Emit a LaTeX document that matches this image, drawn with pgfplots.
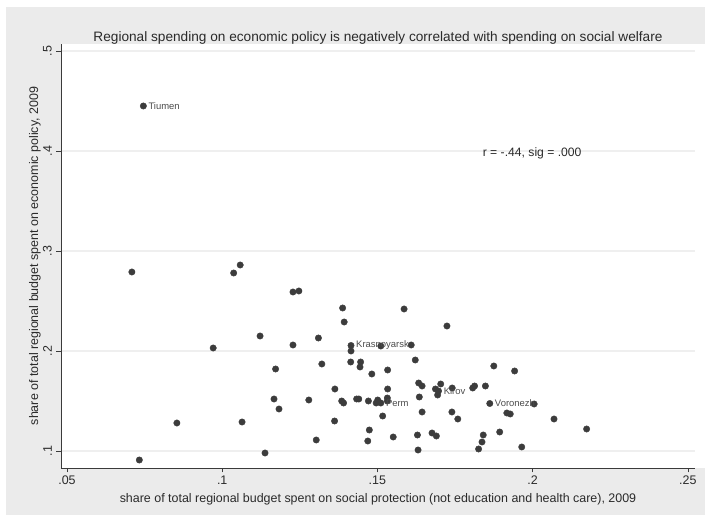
\documentclass[border=0pt]{standalone}
\usepackage{pgfplots}
\pgfplotsset{compat=1.18}
\usepackage{fontspec}
\setmainfont{Liberation Sans}
\definecolor{bg}{HTML}{EBEBEB}
\definecolor{dot}{HTML}{3C3C3C}
\definecolor{gridc}{HTML}{EFEFEF}
\definecolor{axc}{HTML}{3A3A3A}
\definecolor{txt}{HTML}{2A2A2A}
\pgfplotstableread{
x y
0.0709 0.279
0.1058 0.286
0.1037 0.278
0.1228 0.259
0.1247 0.260
0.1122 0.215
0.0971 0.203
0.1228 0.206
0.1172 0.182
0.1167 0.152
0.1183 0.142
0.1279 0.151
0.0854 0.128
0.1064 0.129
0.1138 0.098
0.0733 0.091
0.1388 0.243
0.1393 0.229
0.1586 0.242
0.1724 0.225
0.1310 0.213
0.1415 0.200
0.1511 0.205
0.1609 0.206
0.1414 0.189
0.1446 0.189
0.1444 0.184
0.1482 0.177
0.1533 0.181
0.1622 0.191
0.1321 0.187
0.1363 0.162
0.1533 0.162
0.1633 0.168
0.1644 0.165
0.1704 0.167
0.1687 0.162
0.1694 0.156
0.1741 0.163
0.1807 0.163
0.1813 0.165
0.1848 0.165
0.2005 0.147
0.1917 0.138
0.1928 0.137
0.2069 0.132
0.2174 0.122
0.1875 0.185
0.1942 0.180
0.1385 0.150
0.1391 0.148
0.1433 0.152
0.1440 0.152
0.1471 0.150
0.1501 0.151
0.1496 0.148
0.1532 0.153
0.1532 0.150
0.1635 0.154
0.1362 0.130
0.1517 0.135
0.1644 0.139
0.1740 0.139
0.1759 0.132
0.1474 0.121
0.1469 0.110
0.1303 0.111
0.1551 0.114
0.1629 0.116
0.1631 0.101
0.1676 0.118
0.1690 0.115
0.1841 0.116
0.1837 0.109
0.1826 0.102
0.1894 0.119
0.1965 0.104
}\others
\pgfplotstableread{
x y name
0.0746 0.445 Tiumen
0.1415 0.2055 Krasnoyarsk
0.1697 0.160 Kirov
0.1862 0.1475 Voronezh
0.1511 0.148 Perm
}\named
\begin{document}
\begin{tikzpicture}[x=1bp,y=1bp]
\fill[white] (-61,-47) rectangle (644,468);
\fill[bg] (-55,-47) rectangle (644,461);
\fill[white] (0,0) rectangle (644,424);
\useasboundingbox (-61,-47) rectangle (644,468);
\begin{axis}[
  at={(0,0)}, anchor=south west,
  scale only axis, width=634bp, height=424bp,
  xmin=0.04807, xmax=0.25232, ymin=0.083, ymax=0.507,
  axis x line*=bottom, axis y line*=left,
  axis line style={axc, line width=0.8pt},
  xtick={0.05,0.1,0.15,0.2,0.25},
  xticklabels={.05,.1,.15,.2,.25},
  ytick={0.1,0.2,0.3,0.4,0.5},
  yticklabels={\rotatebox{90}{.1},\rotatebox{90}{.2},\rotatebox{90}{.3},\rotatebox{90}{.4},\rotatebox{90}{.5}},
  tick align=outside, major tick length=4.5bp,
  tick style={axc, line width=0.6pt},
  ymajorgrids, major grid style={gridc, line width=1.2pt},
  ticklabel style={font=\fontsize{12.5}{14}\selectfont, text=txt},
  yticklabel style={anchor=east, inner sep=0pt, xshift=-4.5bp},
  xlabel={share of total regional budget spent on social protection (not education and health care), 2009},
  label style={font=\fontsize{12.5}{14}\selectfont, text=txt},
  xlabel style={at={(0.5,0)}, anchor=base, yshift=-35bp},
  title={Regional spending on economic policy is negatively correlated with spending on social welfare},
  title style={font=\fontsize{13.7}{15}\selectfont, text=txt, at={(0.5,1)}, anchor=base, yshift=-3bp},
  clip=false,
]
\addplot[only marks, mark=*, mark size=3.2bp, mark options={fill=dot, draw=dot}]
  table[x=x, y=y] {\others};
\addplot[only marks, mark=*, mark size=3.2bp, mark options={fill=dot, draw=dot},
  nodes near coords, point meta=explicit symbolic,
  nodes near coords style={anchor=west, inner sep=0pt, xshift=5bp,
    font=\fontsize{9.5}{11}\selectfont, text=black!70}]
  table[x=x, y=y, meta=name] {\named};
\node[anchor=base west, font=\fontsize{12.2}{14}\selectfont, text=txt, inner sep=0pt]
  at (axis cs:0.1839,0.394) {r = -.44, sig = .000};
\end{axis}
\node[rotate=90, anchor=base, inner sep=0pt, font=\fontsize{12.5}{14}\selectfont, text=txt]
  at (-23,212) {share of total regional budget spent on economic policy, 2009};
\end{tikzpicture}
\end{document}
